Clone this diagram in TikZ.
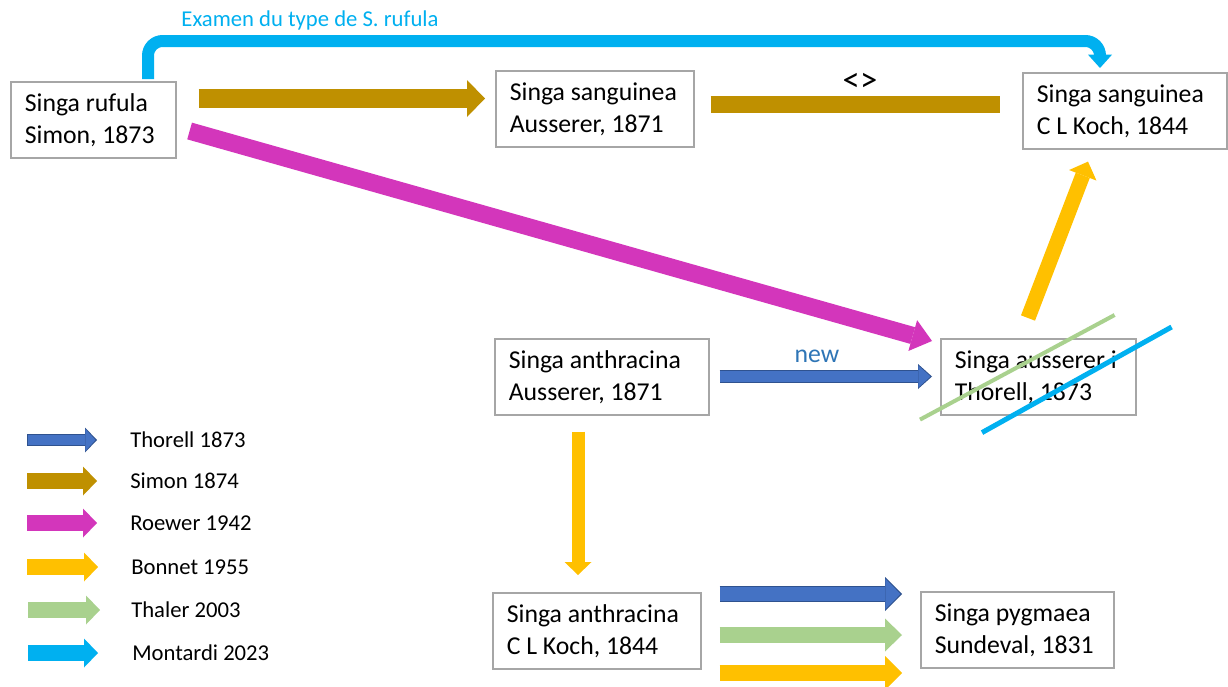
\documentclass[tikz,border=0pt]{standalone}
\usepackage{fontspec}
\setmainfont{Carlito}
\usetikzlibrary{arrows.meta,calc}
\definecolor{cBlue}{HTML}{4472C4}
\definecolor{cBlueO}{HTML}{2F528F}
\definecolor{cGold}{HTML}{BF9000}
\definecolor{cMag}{HTML}{D336BB}
\definecolor{cOr}{HTML}{FFC000}
\definecolor{cGreen}{HTML}{A9D18E}
\definecolor{cCyan}{HTML}{00B0F0}
\definecolor{cBox}{HTML}{A6A6A6}
\definecolor{cNew}{HTML}{2E75B6}
\newcommand\twolines[2]{\spaceskip=0pt\xspaceskip=0pt\mbox{#1}\\\mbox{#2}}
\begin{document}
\begin{tikzpicture}[x=0.75pt,y=-0.75pt,
  box/.style={draw=cBox, line width=1.2pt, fill=white, anchor=north west, align=left,
    inner xsep=10.5pt, inner ysep=0pt, minimum height=57pt, text width=#1,
    font=\fontsize{19.3}{24}\selectfont},
  blk/.style n args={4}{draw=#1, line width=#2, -{Triangle[width=#3,length=#4,line width=0pt]}},
  leg/.style={anchor=west, inner sep=0pt, font=\fontsize{17}{20}\selectfont},
  lbl/.style={inner sep=0pt, font=\fontsize{19.3}{24}\selectfont}
]
\useasboundingbox (0,0) rectangle (1228,686);
\fill[white] (0,0) rectangle (1228,686);

% boxes
\node[box=102.75pt] (ruf)   at (10,81)   {\twolines{Singa rufula}{Simon, 1873}};
\node[box=127.5pt]  (sangA) at (495,70)  {\twolines{Singa sanguinea}{Ausserer, 1871}};
\node[box=132pt]    (sangK) at (1022,72) {\twolines{Singa sanguinea}{C L Koch, 1844}};
\node[box=125.25pt] (auss)  at (940,338) {\twolines{Singa ausserer i}{Thorell, 1873}};
\node[box=139.5pt]  (anthA) at (494,338) {\twolines{Singa anthracina}{Ausserer, 1871}};
\node[box=135pt]    (anthK) at (492,592) {\twolines{Singa anthracina}{C L Koch, 1844}};
\node[box=123.75pt] (pyg)   at (920,591) {\twolines{Singa pygmaea}{Sundeval, 1831}};

% cyan connector (Montardi 2023)
\node[inner sep=0pt, text=cCyan, font=\fontsize{17}{20}\selectfont] (ex) at (310,20) {Examen du type de S. rufula};
\draw[cCyan, line width=9pt, rounded corners=11pt, -{Triangle[width=18pt,length=10pt,line width=0pt]}]
  ($(ruf.north west)+(138,-2)$) |- ($(sangK.north west)+(78,-31)$) -- ($(sangK.north west)+(78,-4)$);

% gold (Simon 1874)
\draw[blk={cGold}{14.25pt}{27.75pt}{13.5pt}] ($(ruf.north east)+(22,17.5)$) -- ($(sangA.north west)+(-10,28.5)$);
\draw[cGold, line width=12.75pt] ($(sangA.north east)+(16,34.5)$) -- ($(sangK.north west)+(-22,32.5)$);
\node[inner sep=0pt, font=\fontsize{26}{30}\selectfont] (neq) at (860,82) {<>};

% magenta (Roewer 1942)
\draw[blk={cMag}{13pt}{24pt}{15pt}] ($(ruf.north east)+(13,50)$) -- ($(auss.north west)+(-8,3)$);

% blue new (Thorell 1873)
\draw[blk={cBlueO}{9.75pt}{18.75pt}{10.5pt}] ($(anthA.north east)+(10,38.5)$) -- ($(auss.north west)+(-8,38.5)$);
\draw[blk={cBlue}{8.5pt}{16.5pt}{9pt}, shorten <=0.6pt, shorten >=1.2pt] ($(anthA.north east)+(10,38.5)$) -- ($(auss.north west)+(-8,38.5)$);
\node[lbl, text=cNew] (new) at (817,356) {new};

% orange (Bonnet 1955)
\draw[blk={cOr}{9.75pt}{20.25pt}{9.75pt}] ($(anthA.south west)+(84,16)$) -- ($(anthK.north west)+(86,-17)$);
\draw[blk={cOr}{11.25pt}{22pt}{11pt}] ($(auss.north west)+(88,-20)$) -- ($(sangK.south west)+(66,12)$);

% crossings on S. ausserer i
\draw[cGreen, line width=3pt] ($(auss.south west)+(-20,4)$) -- ($(auss.north east)+(-22,-23)$);
\draw[cCyan, line width=3.75pt] ($(auss.south west)+(42,17)$) -- ($(auss.north east)+(35,-11)$);

% bottom arrows to pygmaea
\draw[blk={cBlueO}{12pt}{25.5pt}{12.75pt}] ($(anthK.north east)+(18,2)$) -- ($(pyg.north west)+(-18,3)$);
\draw[blk={cBlue}{10.8pt}{23pt}{11.25pt}, shorten <=0.6pt, shorten >=1.2pt] ($(anthK.north east)+(18,2)$) -- ($(pyg.north west)+(-18,3)$);
\draw[blk={cGreen}{12pt}{24.75pt}{12.75pt}] ($(anthK.north east)+(18,43)$) -- ($(pyg.north west)+(-18,44)$);
\draw[blk={cOr}{12pt}{25.5pt}{12.75pt}] ($(anthK.north east)+(18,81)$) -- ($(pyg.north west)+(-18,82)$);

% legend
\node[leg] (l1) at (130,440) {Thorell 1873};
\node[leg] (l2) at (130,481) {Simon 1874};
\node[leg] (l3) at (130,523) {Roewer 1942};
\node[leg] (l4) at (131,567) {Bonnet 1955};
\node[leg] (l5) at (131,610) {Thaler 2003};
\node[leg] (l6) at (132,653) {Montardi 2023};
\draw[blk={cBlueO}{9pt}{18.75pt}{9pt}] ($(l1.west)+(-103,0)$) -- ($(l1.west)+(-33,0)$);
\draw[blk={cBlue}{7.8pt}{16.5pt}{7.5pt}, shorten <=0.6pt, shorten >=1.2pt] ($(l1.west)+(-103,0)$) -- ($(l1.west)+(-33,0)$);
\draw[blk={cGold}{12pt}{21.75pt}{10.5pt}] ($(l2.west)+(-103,0)$) -- ($(l2.west)+(-33,0)$);
\draw[blk={cMag}{12pt}{21.75pt}{10.5pt}] ($(l3.west)+(-103,0)$) -- ($(l3.west)+(-33,0)$);
\draw[blk={cOr}{12pt}{21.75pt}{10.5pt}] ($(l4.west)+(-104,0)$) -- ($(l4.west)+(-33,0)$);
\draw[blk={cGreen}{12pt}{21.75pt}{10.5pt}] ($(l5.west)+(-103,0)$) -- ($(l5.west)+(-31,0)$);
\draw[blk={cCyan}{12pt}{21.75pt}{10.5pt}] ($(l6.west)+(-104,0)$) -- ($(l6.west)+(-34,0)$);
\end{tikzpicture}
\end{document}
